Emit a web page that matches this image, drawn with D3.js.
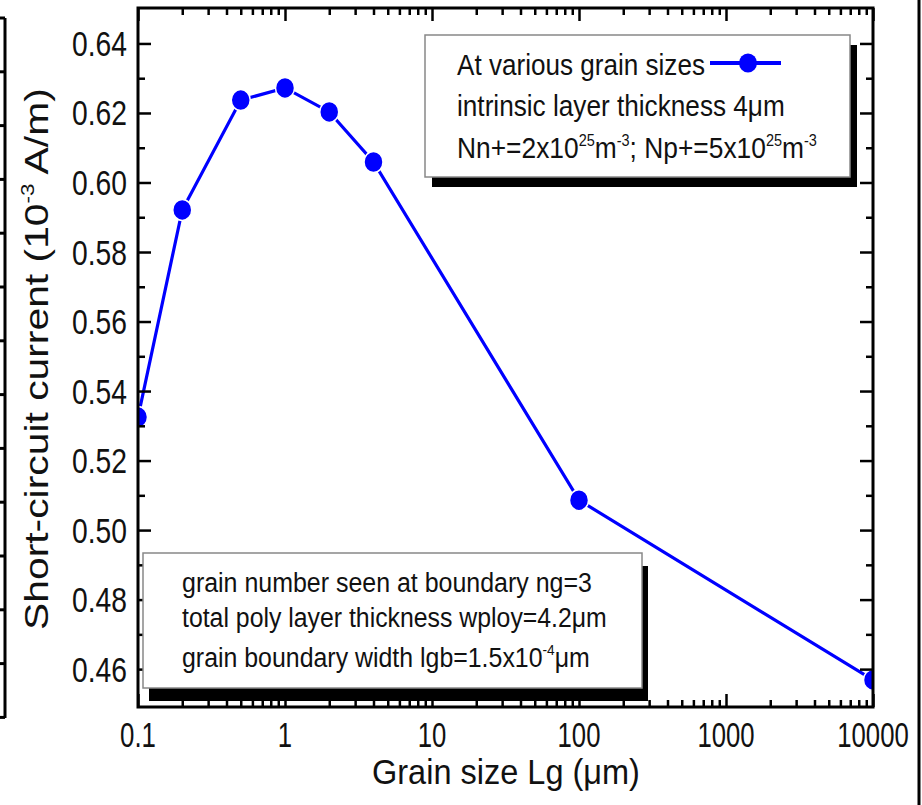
<!DOCTYPE html>
<html>
<head>
<meta charset="utf-8">
<script src="https://cdn.jsdelivr.net/npm/d3@7"></script>
<style>
  body { margin: 0; background: #fff; }
  svg { display: block; font-family: "Liberation Sans", Arial, sans-serif; }
</style>
</head>
<body>
<div id="chart"></div>
<script>
// data
const grainSize = [0.1, 0.2, 0.5, 1, 2, 4, 100, 10000];
const current = [0.5325, 0.5921, 0.6237, 0.6272, 0.6203, 0.6059, 0.5086, 0.4569];

const xTickValues = [0.1, 1, 10, 100, 1000, 10000];
const xTickLabels = ["0.1", "1", "10", "100", "1000", "10000"];
const yTickValues = [0.46, 0.48, 0.50, 0.52, 0.54, 0.56, 0.58, 0.60, 0.62, 0.64];
const yTickLabels = ["0.46", "0.48", "0.50", "0.52", "0.54", "0.56", "0.58", "0.60", "0.62", "0.64"];
const yMinorValues = [0.47, 0.49, 0.51, 0.53, 0.55, 0.57, 0.59, 0.61, 0.63];

const width = 922, height = 805;
const plot = {left: 138, right: 873, top: 8, bottom: 707};
const blue = "#0000ff";

const svg = d3.select("#chart").append("svg")
    .attr("width", width)
    .attr("height", height);

const x = d3.scaleLog().domain([0.1, 10000]).range([plot.left, plot.right]);
const y = d3.scaleLinear().domain([0.4491, 0.6502]).range([plot.bottom, plot.top]);

// text helper: font-size sets height, then squeeze horizontally to the width seen in the picture
function richText(parent, parts, size) {
    const t = parent.append("text")
        .attr("font-size", size)
        .attr("fill", "#111");
    let back = 0;
    parts.forEach(function (p) {
        const ts = t.append("tspan").text(p.s);
        if (p.sup) {
            ts.attr("font-size", size * 0.55).attr("dy", -size * 0.42 + back);
            back = size * 0.42;
        } else {
            if (back) ts.attr("dy", back);
            back = 0;
        }
    });
    return t;
}

function place(parent, parts, size, px, py, targetW, anchor, rotate) {
    const g = parent.append("g");
    const t = richText(g, parts, size);
    const w = t.node().getComputedTextLength();
    const sx = targetW ? targetW / w : 1;
    let dx = 0;
    if (anchor === "middle") dx = -w / 2;
    if (anchor === "end") dx = -w;
    t.attr("x", dx);
    g.attr("transform", "translate(" + px + "," + py + ")" + (rotate ? " rotate(" + rotate + ")" : "") + " scale(" + sx + ",1)");
    return g;
}

// stray frame pieces at the page edges
const leftTicks = d3.range(18, 720, 53.8);
svg.append("line").attr("x1", 5).attr("x2", 5).attr("y1", 18).attr("y2", 718)
    .attr("stroke", "#000").attr("stroke-width", 3);
svg.append("g").selectAll("line").data(leftTicks).join("line")
    .attr("x1", 0).attr("x2", 5).attr("y1", d => d).attr("y2", d => d)
    .attr("stroke", "#000").attr("stroke-width", 3);
svg.append("line").attr("x1", 919).attr("x2", 919).attr("y1", 0).attr("y2", height)
    .attr("stroke", "#000").attr("stroke-width", 3);

// data line + markers, clipped to the frame
svg.append("clipPath").attr("id", "clip").append("rect")
    .attr("x", plot.left).attr("y", plot.top)
    .attr("width", plot.right - plot.left).attr("height", plot.bottom - plot.top);

const pts = grainSize.map((g, i) => [g, current[i]]);
const series = svg.append("g").attr("clip-path", "url(#clip)");
series.append("path")
    .datum(pts)
    .attr("fill", "none")
    .attr("stroke", blue)
    .attr("stroke-width", 3.2)
    .attr("d", d3.line().x(d => x(d[0])).y(d => y(d[1])));
series.selectAll("ellipse").data(pts).join("ellipse")
    .attr("cx", d => x(d[0]))
    .attr("cy", d => y(d[1]))
    .attr("rx", 9.5).attr("ry", 10.5)
    .attr("fill", blue)
    .attr("stroke", "#fff")
    .attr("stroke-width", 1.5);

// axes: ticks inward on all four sides
const xMinor = x.ticks().filter(d => Math.abs(Math.log10(d) - Math.round(Math.log10(d))) > 1e-6);
const axes = svg.append("g");
function tickStyle(g) {
    g.select(".domain").remove();
    g.selectAll("line").attr("stroke", "#000").attr("stroke-width", 2.5);
    g.selectAll("text").remove();
}
axes.append("g").attr("transform", "translate(0," + plot.bottom + ")")
    .call(d3.axisBottom(x).tickValues(xTickValues).tickSize(-13).tickFormat("")).call(tickStyle);
axes.append("g").attr("transform", "translate(0," + plot.bottom + ")")
    .call(d3.axisBottom(x).tickValues(xMinor).tickSize(-7).tickFormat("")).call(tickStyle);
axes.append("g").attr("transform", "translate(0," + plot.top + ")")
    .call(d3.axisTop(x).tickValues(xTickValues).tickSize(-13).tickFormat("")).call(tickStyle);
axes.append("g").attr("transform", "translate(0," + plot.top + ")")
    .call(d3.axisTop(x).tickValues(xMinor).tickSize(-7).tickFormat("")).call(tickStyle);
axes.append("g").attr("transform", "translate(" + plot.left + ",0)")
    .call(d3.axisLeft(y).tickValues(yTickValues).tickSize(-13).tickFormat("")).call(tickStyle);
axes.append("g").attr("transform", "translate(" + plot.left + ",0)")
    .call(d3.axisLeft(y).tickValues(yMinorValues).tickSize(-7).tickFormat("")).call(tickStyle);
axes.append("g").attr("transform", "translate(" + plot.right + ",0)")
    .call(d3.axisRight(y).tickValues(yTickValues).tickSize(-13).tickFormat("")).call(tickStyle);
axes.append("g").attr("transform", "translate(" + plot.right + ",0)")
    .call(d3.axisRight(y).tickValues(yMinorValues).tickSize(-7).tickFormat("")).call(tickStyle);

axes.append("rect")
    .attr("x", plot.left).attr("y", plot.top)
    .attr("width", plot.right - plot.left).attr("height", plot.bottom - plot.top)
    .attr("fill", "none").attr("stroke", "#000").attr("stroke-width", 3);

// tick labels
xTickValues.forEach(function (v, i) {
    place(svg, [{s: xTickLabels[i]}], 35, x(v), 747, xTickLabels[i].length * 14.3 - (xTickLabels[i].includes(".") ? 7 : 0), "middle");
});
yTickValues.forEach(function (v, i) {
    place(svg, [{s: yTickLabels[i]}], 35, 127, y(v) + 12.5, 55, "end");
});

// axis titles
place(svg, [{s: "Grain size Lg (μm)"}], 35, 506, 784, 268, "middle");
place(svg, [{s: "Short-circuit current (10"}, {s: "-3", sup: true}, {s: " A/m)"}], 34, 48, 359, 542, "middle", -90);

// legend boxes with drop shadow
function legendBox(bx, by, bw, bh, sdx, sdy) {
    svg.append("rect").attr("x", bx + sdx).attr("y", by + sdy).attr("width", bw).attr("height", bh)
        .attr("fill", "#000");
    svg.append("rect").attr("x", bx).attr("y", by).attr("width", bw).attr("height", bh)
        .attr("fill", "#fff").attr("stroke", "#888").attr("stroke-width", 1.5);
}

legendBox(425, 35, 425, 142, 7, 10);
place(svg, [{s: "At various grain sizes"}], 29, 457, 75, 248, "start");
place(svg, [{s: "intrinsic layer thickness 4μm"}], 29, 457, 116, 328, "start");
place(svg, [{s: "Nn+=2x10"}, {s: "25", sup: true}, {s: "m"}, {s: "-3", sup: true}, {s: "; Np+=5x10"}, {s: "25", sup: true}, {s: "m"}, {s: "-3", sup: true}], 29, 457, 158, 360, "start");
svg.append("line").attr("x1", 710).attr("x2", 781).attr("y1", 63).attr("y2", 63)
    .attr("stroke", blue).attr("stroke-width", 4);
svg.append("ellipse").attr("cx", 748).attr("cy", 63).attr("rx", 9).attr("ry", 9.5).attr("fill", blue);

legendBox(143, 553, 499, 135, 6, 13);
place(svg, [{s: "grain number seen at boundary ng=3"}], 28, 182, 592, 410, "start");
place(svg, [{s: "total poly layer thickness wploy=4.2μm"}], 28, 182, 627, 425, "start");
place(svg, [{s: "grain boundary width lgb=1.5x10"}, {s: "-4", sup: true}, {s: "μm"}], 28, 182, 667, 408, "start");
</script>
</body>
</html>
